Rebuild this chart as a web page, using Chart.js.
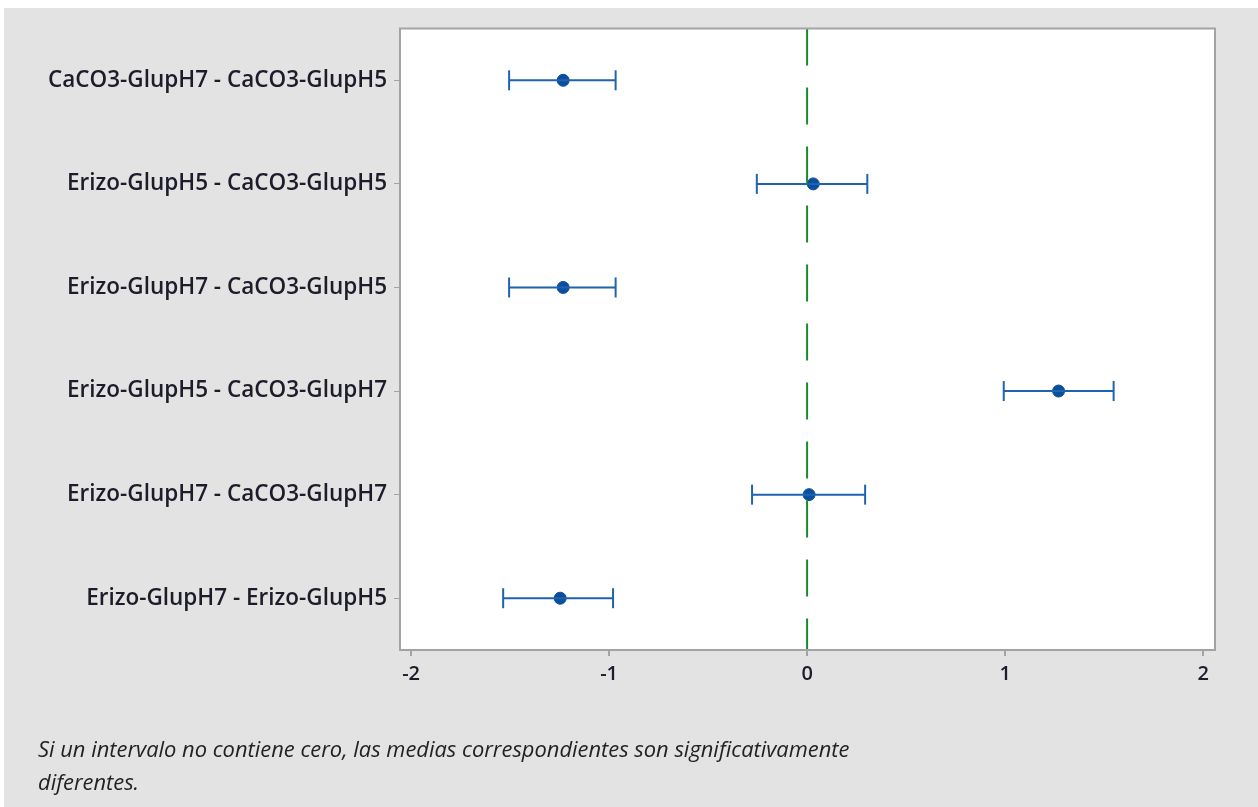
<!DOCTYPE html>
<html>
<head>
<meta charset="utf-8">
<script src="https://cdn.jsdelivr.net/npm/chart.js@4"></script>
<style>
  body { margin: 0; background: #fff; }
  #wrap { position: absolute; left: 4px; top: 8px; width: 1254px; height: 799px; background: #e3e3e3; }
  #note { position: absolute; left: 34px; top: 724px; font-family: "Open Sans", sans-serif; font-style: italic;
          font-size: 21.9px; line-height: 33px; color: #222; width: 860px; }
</style>
</head>
<body>
<div id="wrap">
  <canvas id="tukey" width="1254" height="799"></canvas>
  <div id="note">Si un intervalo no contiene cero, las medias correspondientes son significativamente diferentes.</div>
</div>
<script>
const comparisons = [
    'CaCO3-GlupH7 - CaCO3-GlupH5',
    'Erizo-GlupH5 - CaCO3-GlupH5',
    'Erizo-GlupH7 - CaCO3-GlupH5',
    'Erizo-GlupH5 - CaCO3-GlupH7',
    'Erizo-GlupH7 - CaCO3-GlupH7',
    'Erizo-GlupH7 - Erizo-GlupH5'
];
const diffs = [-1.232, 0.031, -1.232, 1.270, 0.010, -1.247];
const lower = [-1.505, -0.254, -1.505, 0.993, -0.278, -1.535];
const upper = [-0.967, 0.304, -0.967, 1.548, 0.293, -0.980];
const xTicks = [-2, -1, 0, 1, 2];

const blue = '#1f63b0';
const fontFam = '"Open Sans", sans-serif';

// one line dataset per interval, caps drawn as rotated 'line' points
const intervalSets = comparisons.map((c, i) => ({
    type: 'line',
    data: [{ x: lower[i], y: i + 1 }, { x: upper[i], y: i + 1 }],
    borderColor: blue,
    borderWidth: 2,
    pointStyle: 'line',
    rotation: 90,
    pointRadius: 10,
    pointBorderWidth: 2,
    pointBorderColor: blue,
    clip: false
}));

const plotFrame = {
    id: 'plotFrame',
    beforeDraw(chart) {
        const a = chart.chartArea, ctx = chart.ctx;
        ctx.save();
        ctx.fillStyle = '#fff';
        ctx.fillRect(a.left, a.top, a.right - a.left, a.bottom - a.top);
        ctx.restore();
    },
    afterDatasetsDraw(chart) {
        const a = chart.chartArea, ctx = chart.ctx;
        ctx.save();
        ctx.strokeStyle = '#a3a3a3';
        ctx.lineWidth = 2;
        ctx.strokeRect(a.left, a.top, a.right - a.left, a.bottom - a.top);
        ctx.restore();
    }
};

new Chart(document.getElementById('tukey').getContext('2d'), {
    type: 'scatter',
    data: {
        datasets: [
            {
                type: 'line',
                data: [{ x: 0, y: 0.5 }, { x: 0, y: 6.5 }],
                borderColor: '#1a8a2a',
                borderWidth: 2,
                borderDash: [37, 22],
                pointRadius: 0
            },
            ...intervalSets,
            {
                data: diffs.map((d, i) => ({ x: d, y: i + 1 })),
                backgroundColor: '#0b4f9c',
                borderColor: '#0b4f9c',
                pointRadius: 6,
                pointStyle: 'circle'
            }
        ]
    },
    plugins: [plotFrame],
    options: {
        responsive: false,
        animation: false,
        layout: { padding: { left: 0, top: 16, right: 43, bottom: 107 } },
        plugins: { legend: { display: false }, tooltip: { enabled: false } },
        scales: {
            x: {
                type: 'linear',
                min: -2.056,
                max: 2.06,
                afterBuildTicks: s => { s.ticks = xTicks.map(v => ({ value: v })); },
                afterFit: s => { s.height = 50; },
                grid: { drawOnChartArea: false, drawTicks: true, tickLength: 6, color: '#a3a3a3', lineWidth: 2 },
                border: { display: false },
                ticks: { padding: 6, color: '#1c1c2a', font: { family: fontFam, size: 20, weight: 600 }, callback: v => String(v) }
            },
            y: {
                type: 'linear',
                reverse: true,
                min: 0.5,
                max: 6.5,
                afterBuildTicks: s => { s.ticks = comparisons.map((c, i) => ({ value: i + 1 })); },
                afterFit: s => { s.width = 396; },
                grid: { drawOnChartArea: false, drawTicks: true, tickLength: 6, color: '#a3a3a3', lineWidth: 1 },
                border: { display: false },
                ticks: { padding: 7, color: '#1c1c2a', font: { family: fontFam, size: 22.5, weight: 600 },
                         callback: v => comparisons[v - 1] }
            }
        }
    }
});
</script>
</body>
</html>
